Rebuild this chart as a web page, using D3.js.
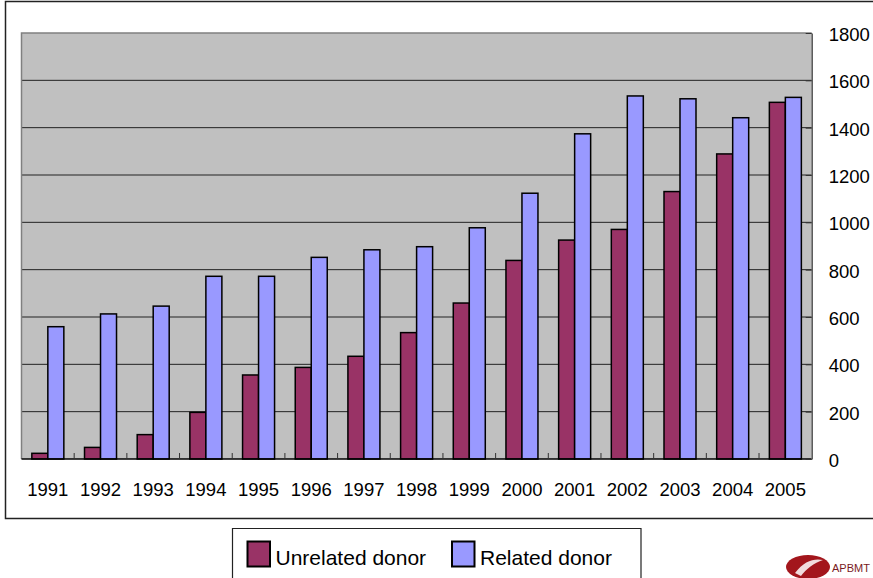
<!DOCTYPE html>
<html>
<head>
<meta charset="utf-8">
<script src="https://cdn.jsdelivr.net/npm/d3@7"></script>
<style>
  body { margin: 0; background: #fff; }
  text { font-family: "Liberation Sans", Arial, sans-serif; }
</style>
</head>
<body>
<div id="chart-container"></div>
<script>
// transplant counts per year
let years = ["1991","1992","1993","1994","1995","1996","1997","1998","1999","2000","2001","2002","2003","2004","2005"];
let unrelated = [24, 49, 103, 197, 355, 387, 434, 534, 659, 839, 925, 970, 1130, 1289, 1507];
let related = [559, 613, 646, 772, 772, 852, 884, 897, 977, 1123, 1374, 1534, 1522, 1442, 1528];
let yTicks = [0, 200, 400, 600, 800, 1000, 1200, 1400, 1600, 1800];
let seriesNames = ["Unrelated donor", "Related donor"];
let colors = ["#993366", "#9999ff"];

let W = 873, H = 578;
let plot = {left: 21.5, top: 33, right: 811.7, bottom: 459};

let svg = d3.select("#chart-container")
    .append("svg")
    .attr("width", W)
    .attr("height", H);

// outer frame (right edge runs off the page)
svg.append("path")
    .attr("d", `M${W + 5},1.5 H5.5 V518.5 H${W + 5}`)
    .attr("fill", "none")
    .attr("stroke", "#222")
    .attr("stroke-width", 1.5);

let x = d3.scaleBand()
    .domain(years)
    .range([plot.left, plot.right]);

let y = d3.scaleLinear()
    .domain([0, 1800])
    .range([plot.bottom, plot.top]);

let barW = 16;

// grey plot area
svg.append("rect")
    .attr("x", plot.left)
    .attr("y", plot.top)
    .attr("width", plot.right - plot.left)
    .attr("height", plot.bottom - plot.top)
    .attr("fill", "#c0c0c0");

// gridlines
svg.selectAll(".grid")
    .data(yTicks.filter(d => d > 0 && d < 1800))
    .enter()
    .append("line")
    .attr("x1", plot.left)
    .attr("x2", plot.right)
    .attr("y1", d => y(d))
    .attr("y2", d => y(d))
    .attr("stroke", "#222")
    .attr("stroke-width", 1);

// top and left borders of the plot, grey
svg.append("path")
    .attr("d", `M${plot.left},${plot.bottom} V${plot.top} H${plot.right}`)
    .attr("fill", "none")
    .attr("stroke", "#808080")
    .attr("stroke-width", 1.5);

// bars
let groups = svg.selectAll(".year")
    .data(years)
    .enter()
    .append("g")
    .attr("transform", d => `translate(${x(d) + x.bandwidth() / 2},0)`);

[unrelated, related].forEach(function(vals, s) {
  groups.append("rect")
      .attr("x", s === 0 ? -barW : 0)
      .attr("width", barW)
      .attr("y", (d, i) => y(vals[i]))
      .attr("height", (d, i) => y(0) - y(vals[i]))
      .attr("fill", colors[s])
      .attr("stroke", "#000")
      .attr("stroke-width", 1.5);
});

// bottom axis with ticks pointing up between categories
let xAxis = svg.append("g")
    .attr("transform", `translate(0,${plot.bottom})`);
xAxis.append("line")
    .attr("x1", plot.left).attr("x2", plot.right)
    .attr("stroke", "#000").attr("stroke-width", 1.5);
xAxis.selectAll(".tick")
    .data(years.slice(1))
    .enter()
    .append("line")
    .attr("x1", d => x(d)).attr("x2", d => x(d))
    .attr("y1", 0).attr("y2", -6)
    .attr("stroke", "#333");
xAxis.selectAll(".lab")
    .data(years)
    .enter()
    .append("text")
    .attr("x", d => x(d) + x.bandwidth() / 2)
    .attr("y", 37)
    .attr("text-anchor", "middle")
    .attr("font-size", 18.5)
    .attr("fill", "#000")
    .text(d => d);

// right axis
let yAxis = d3.axisRight(y).tickValues(yTicks).tickFormat(d3.format("d")).tickSize(0).tickPadding(17);
let ya = svg.append("g")
    .attr("transform", `translate(${plot.right},0)`)
    .call(yAxis);
ya.select(".domain").attr("stroke", "#555").attr("stroke-width", 1.5);
ya.selectAll("text")
    .attr("font-size", 18.5)
    .attr("font-family", "'Liberation Sans', Arial, sans-serif")
    .attr("fill", "#000")
    .attr("dy", "0.4em");
ya.selectAll(".tick").append("line")
    .attr("x1", -6).attr("x2", 0)
    .attr("stroke", "#333");

// legend
let legend = svg.append("g");
legend.append("path")
    .attr("d", "M232.5,578 V528.5 H641 V578")
    .attr("fill", "none")
    .attr("stroke", "#222")
    .attr("stroke-width", 1.2);

let legendX = [247.5, 452];
seriesNames.forEach(function(name, i) {
  legend.append("rect")
      .attr("x", legendX[i])
      .attr("y", 541.5)
      .attr("width", 22.5)
      .attr("height", 25)
      .attr("fill", colors[i])
      .attr("stroke", "#000")
      .attr("stroke-width", 2);
  legend.append("text")
      .attr("x", legendX[i] + 28)
      .attr("y", 565)
      .attr("font-size", 21)
      .attr("fill", "#000")
      .text(name);
});

// logo in the corner
let logo = svg.append("g").attr("transform", "translate(808,567)");
logo.append("ellipse")
    .attr("rx", 22).attr("ry", 12)
    .attr("fill", "#a3161c");
logo.append("path")
    .attr("d", "M-13,6 C-4,-6 6,-9 15,-7 C6,-4 -2,2 -7,9 Z")
    .attr("fill", "#fff")
    .attr("opacity", 0.85);
logo.append("text")
    .attr("x", 24)
    .attr("y", 5)
    .attr("font-size", 11)
    .attr("fill", "#7a1a1e")
    .text("APBMT");
</script>
</body>
</html>
